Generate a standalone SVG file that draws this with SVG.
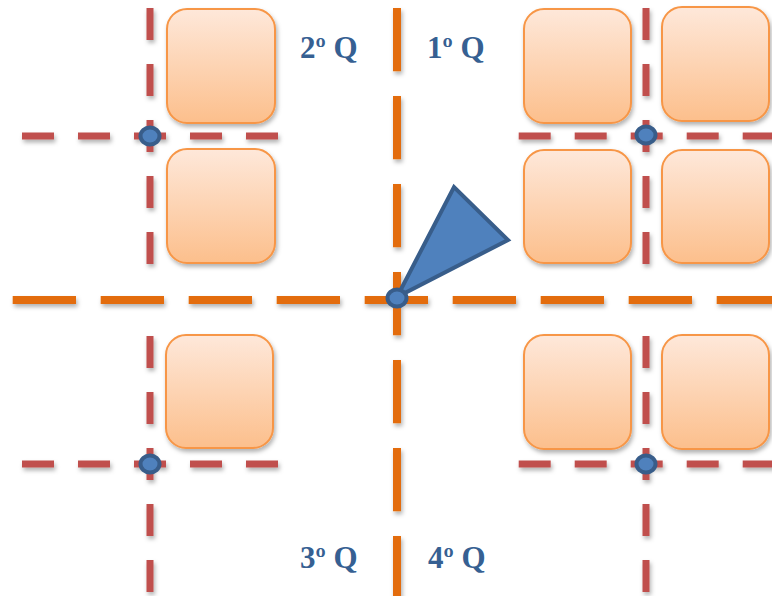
<svg xmlns="http://www.w3.org/2000/svg" width="772" height="596" viewBox="0 0 772 596">
<style>
.red{stroke:#C0504D;stroke-width:7;stroke-dasharray:32 24;fill:none}
.org{stroke:#E36C09;stroke-width:8;stroke-dasharray:63.3 24.7;fill:none}
.box{fill:url(#g);stroke:#F79646;stroke-width:2}
.dot{fill:#4F81BD;stroke:#385D8A;stroke-width:4}
.lbl{font-family:"Liberation Serif","Times New Roman",serif;font-weight:bold;font-size:31px;fill:#366092}
</style>
<defs>
<linearGradient id="g" x1="0" y1="0" x2="0" y2="1">
<stop offset="0" stop-color="#FEE8DA"/>
<stop offset="1" stop-color="#FCBF8C"/>
</linearGradient>
<filter id="sh" x="-20%" y="-20%" width="140%" height="140%">
<feDropShadow dx="1.5" dy="3" stdDeviation="2" flood-color="#000" flood-opacity="0.3"/>
</filter>
</defs>
<rect width="772" height="596" fill="#fff"/>
<g id="connectors" filter="url(#sh)">
<line class="org" x1="12.7" y1="300" x2="790" y2="300"/>
<line class="org" x1="397" y1="8" x2="397" y2="610"/>
<line class="red" x1="150" y1="8" x2="150" y2="264"/>
<line class="red" x1="22" y1="136" x2="278" y2="136"/>
<line class="red" x1="150" y1="336" x2="150" y2="610"/>
<line class="red" x1="22" y1="464" x2="278" y2="464"/>
<line class="red" x1="646" y1="8" x2="646" y2="264"/>
<line class="red" x1="518.7" y1="136" x2="790" y2="136"/>
<line class="red" x1="646" y1="336" x2="646" y2="610"/>
<line class="red" x1="518.7" y1="464" x2="790" y2="464"/>
</g>
<g id="box-tl1" filter="url(#sh)"><rect class="box" x="167" y="9" width="108" height="114" rx="20"/></g>
<g id="box-tl2" filter="url(#sh)"><rect class="box" x="167" y="149" width="108" height="114" rx="20"/></g>
<g id="box-bl" filter="url(#sh)"><rect class="box" x="166" y="335" width="107" height="113" rx="20"/></g>
<g id="box-tr1" filter="url(#sh)"><rect class="box" x="524" y="9" width="107" height="114" rx="20"/></g>
<g id="box-tr2" filter="url(#sh)"><rect class="box" x="662" y="7" width="107" height="114" rx="20"/></g>
<g id="box-tr3" filter="url(#sh)"><rect class="box" x="524" y="150" width="107" height="113" rx="20"/></g>
<g id="box-tr4" filter="url(#sh)"><rect class="box" x="662" y="150" width="107" height="113" rx="20"/></g>
<g id="box-br1" filter="url(#sh)"><rect class="box" x="524" y="335" width="107" height="114" rx="20"/></g>
<g id="box-br2" filter="url(#sh)"><rect class="box" x="662" y="335" width="107" height="114" rx="20"/></g>
<g id="pointer"><polygon points="397,297 454,187 508,240" fill="#4F81BD" stroke="#385D8A" stroke-width="4" stroke-linejoin="miter"/></g>
<g id="dot-tl"><ellipse class="dot" cx="150" cy="136" rx="9.5" ry="8.5"/></g>
<g id="dot-tr"><ellipse class="dot" cx="646" cy="135" rx="9.5" ry="8.5"/></g>
<g id="dot-bl"><ellipse class="dot" cx="150" cy="464" rx="9.5" ry="8.5"/></g>
<g id="dot-br"><ellipse class="dot" cx="646" cy="464" rx="9.5" ry="8.5"/></g>
<g id="dot-center"><ellipse class="dot" cx="397" cy="298" rx="9.5" ry="8.5"/></g>
<g id="label-2q"><text class="lbl" x="300" y="58">2º Q</text></g>
<g id="label-1q"><text class="lbl" x="427" y="58">1º Q</text></g>
<g id="label-3q"><text class="lbl" x="300" y="568">3º Q</text></g>
<g id="label-4q"><text class="lbl" x="428" y="568">4º Q</text></g>
</svg>
